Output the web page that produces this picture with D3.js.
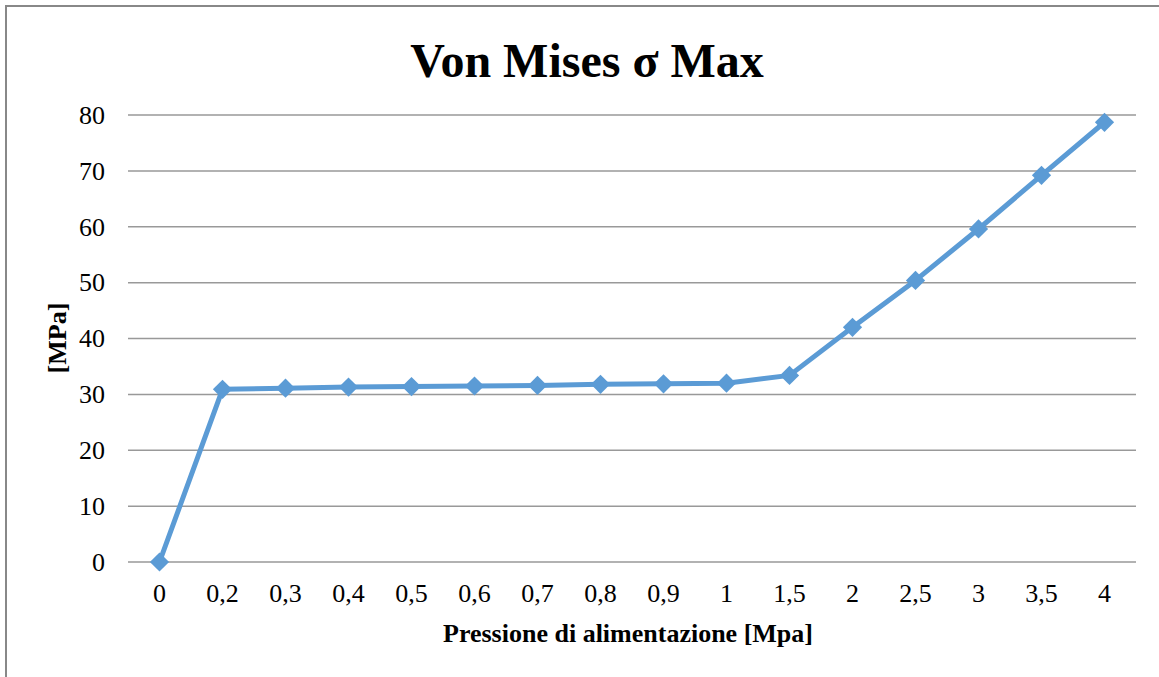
<!DOCTYPE html>
<html><head><meta charset="utf-8">
<script src="https://cdn.jsdelivr.net/npm/d3@7"></script>
<style>body{margin:0;background:#fff}svg{display:block}</style>
</head><body>
<svg id="c" width="1159" height="677"></svg>
<script>
const categories = ["0","0,2","0,3","0,4","0,5","0,6","0,7","0,8","0,9","1","1,5","2","2,5","3","3,5","4"];
const values = [0, 30.9, 31.1, 31.3, 31.4, 31.5, 31.6, 31.8, 31.9, 32.0, 33.4, 42.0, 50.4, 59.6, 69.2, 78.7];
const yTicks = [0,10,20,30,40,50,60,70,80];
const titleText = "Von Mises σ Max";
const xTitle = "Pressione di alimentazione [Mpa]";
const yTitle = "[MPa]";

const svg = d3.select("#c");
const font = "'Liberation Serif','Times New Roman',serif";
svg.append("rect").attr("x",6).attr("y",6).attr("width",1170).attr("height",700)
  .attr("fill","#fff").attr("stroke","#888").attr("stroke-width",2);

const L=128,R=1136,T=115,B=562;
const x = d3.scaleBand().domain(categories).range([L,R]);
const y = d3.scaleLinear().domain([0,80]).range([B,T]);

const g = svg.append("g");
g.selectAll("line.grid").data(yTicks).join("line")
  .attr("x1",L).attr("x2",R).attr("y1",d=>y(d)).attr("y2",d=>y(d))
  .attr("stroke","#999").attr("stroke-width",1.5);

const yAxis = g.append("g").attr("transform",`translate(${L},0)`)
  .call(d3.axisLeft(y).tickValues(yTicks).tickSize(0).tickPadding(23));
yAxis.select(".domain").remove();
yAxis.attr("font-family",null).attr("font-size",null);
yAxis.selectAll("text").style("font-family",font).style("font-size","26px").attr("fill","#000");

const xAxis = g.append("g").attr("transform",`translate(0,${B})`)
  .call(d3.axisBottom(x).tickSize(0).tickPadding(22));
xAxis.select(".domain").remove();
xAxis.attr("font-family",null).attr("font-size",null);
xAxis.selectAll("text").style("font-family",font).style("font-size","26px").attr("fill","#000");

const cx = d => x(d) + x.bandwidth()/2;
const line = d3.line().x((d,i)=>cx(categories[i])).y(d=>y(d));
g.append("path").datum(values).attr("d",line).attr("fill","none")
  .attr("stroke","#5B9BD5").attr("stroke-width",5).attr("stroke-linejoin","round");

g.selectAll("path.m").data(values).join("path").attr("class","m")
  .attr("transform",(d,i)=>`translate(${cx(categories[i])},${y(d)}) rotate(45)`)
  .attr("d", d3.symbol().type(d3.symbolSquare).size(185)())
  .attr("fill","#5B9BD5");

svg.append("text").attr("x",587).attr("y",77).attr("text-anchor","middle")
  .style("font-family",font).attr("font-weight","bold").style("font-size","48px").text(titleText);
svg.append("text").attr("x",628).attr("y",642).attr("text-anchor","middle")
  .style("font-family",font).attr("font-weight","bold").style("font-size","26px").text(xTitle);
svg.append("text").attr("transform","translate(66,338) rotate(-90)").attr("text-anchor","middle")
  .style("font-family",font).attr("font-weight","bold").style("font-size","26px").text(yTitle);
</script>
</body></html>
